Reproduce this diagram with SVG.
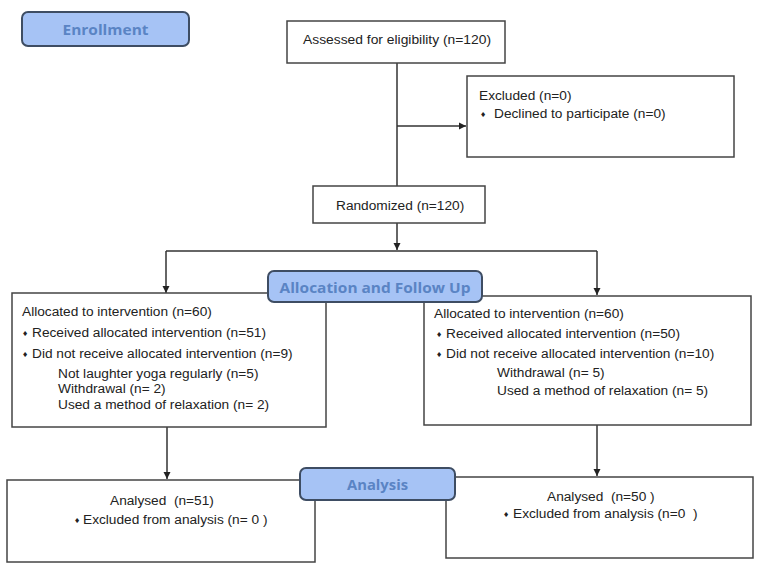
<svg xmlns="http://www.w3.org/2000/svg" width="765" height="566" viewBox="0 0 765 566">
<defs>
<marker id="ah" markerWidth="8" markerHeight="8" refX="7" refY="4" orient="auto" markerUnits="userSpaceOnUse">
<path d="M0,0.5 L7,4 L0,7.5 Z" fill="#222"/>
</marker>
<style>
.box{fill:#fff;stroke:#444;stroke-width:1.5}
.ban{fill:#a6c3f5;stroke:#3e4d63;stroke-width:2}
.bt{font-family:"Open Sans","Noto Sans",sans-serif;font-weight:700;font-size:15px;fill:#5a84c4;text-anchor:middle}
.t{font-family:"Liberation Sans",Arial,sans-serif;font-size:13.7px;fill:#222}
.b{font-family:"DejaVu Sans",sans-serif;font-size:7px;fill:#222}
.ln{fill:none;stroke:#333;stroke-width:1.5}
</style>
</defs>
<rect width="765" height="566" fill="#fff"/>
<g id="connectors">
<path class="ln" d="M397,63 V186"/>
<path class="ln" d="M397,126 H466" marker-end="url(#ah)"/>
<path class="ln" d="M397,223 V250" marker-end="url(#ah)"/>
<path class="ln" d="M166,251 H597"/>
<path class="ln" d="M166,251 V293" marker-end="url(#ah)"/>
<path class="ln" d="M597,251 V295" marker-end="url(#ah)"/>
<path class="ln" d="M167,427 V479" marker-end="url(#ah)"/>
<path class="ln" d="M597,425 V476" marker-end="url(#ah)"/>
</g>
<g id="assessed">
<rect class="box" x="287" y="21" width="218" height="42"/>
<text class="t" x="303" y="44" textLength="188" lengthAdjust="spacingAndGlyphs">Assessed for eligibility (n=120)</text>
</g>
<g id="excluded">
<rect class="box" x="467" y="76" width="267" height="81"/>
<text class="t" x="479" y="100">Excluded (n=0)</text>
<text class="b" x="480" y="117">♦</text>
<text class="t" x="494" y="118">Declined to participate (n=0)</text>
</g>
<g id="randomized">
<rect class="box" x="313" y="186" width="172" height="37"/>
<text class="t" x="336" y="210">Randomized (n=120)</text>
</g>
<g id="alloc-left">
<rect class="box" x="12" y="293" width="314" height="134"/>
<text class="t" x="22" y="316">Allocated to intervention (n=60)</text>
<text class="b" x="22" y="336">♦</text>
<text class="t" x="32" y="337">Received allocated intervention (n=51)</text>
<text class="b" x="22" y="357">♦</text>
<text class="t" x="32" y="358">Did not receive allocated intervention (n=9)</text>
<text class="t" x="58" y="378">Not laughter yoga regularly (n=5)</text>
<text class="t" x="58" y="393">Withdrawal (n= 2)</text>
<text class="t" x="58" y="409">Used a method of relaxation (n= 2)</text>
</g>
<g id="alloc-right">
<rect class="box" x="424" y="296" width="327" height="129"/>
<text class="t" x="434" y="318">Allocated to intervention (n=60)</text>
<text class="b" x="436" y="337">♦</text>
<text class="t" x="446" y="338">Received allocated intervention (n=50)</text>
<text class="b" x="436" y="357">♦</text>
<text class="t" x="446" y="358">Did not receive allocated intervention (n=10)</text>
<text class="t" x="497" y="377">Withdrawal (n= 5)</text>
<text class="t" x="497" y="395">Used a method of relaxation (n= 5)</text>
</g>
<g id="analysis-left">
<rect class="box" x="7" y="480" width="308" height="82"/>
<text class="t" x="110" y="505" xml:space="preserve">Analysed  (n=51)</text>
<text class="b" x="74" y="523">♦</text>
<text class="t" x="83" y="524" xml:space="preserve">Excluded from analysis (n= 0 )</text>
</g>
<g id="analysis-right">
<rect class="box" x="446" y="477" width="307" height="81"/>
<text class="t" x="547" y="501" xml:space="preserve">Analysed  (n=50 )</text>
<text class="b" x="503" y="517">♦</text>
<text class="t" x="513" y="518" xml:space="preserve">Excluded from analysis (n=0  )</text>
</g>
<g id="enrollment">
<rect class="ban" x="22" y="12" width="167" height="34" rx="6"/>
<text class="bt" x="105.5" y="35" textLength="86" lengthAdjust="spacingAndGlyphs">Enrollment</text>
</g>
<g id="allocation">
<rect class="ban" x="268" y="271" width="214" height="31" rx="6"/>
<text class="bt" x="375" y="293" textLength="191" lengthAdjust="spacingAndGlyphs">Allocation and Follow Up</text>
</g>
<g id="analysis">
<rect class="ban" x="300" y="468" width="155" height="32" rx="6"/>
<text class="bt" x="377.5" y="490" textLength="61" lengthAdjust="spacingAndGlyphs">Analysis</text>
</g>
</svg>
